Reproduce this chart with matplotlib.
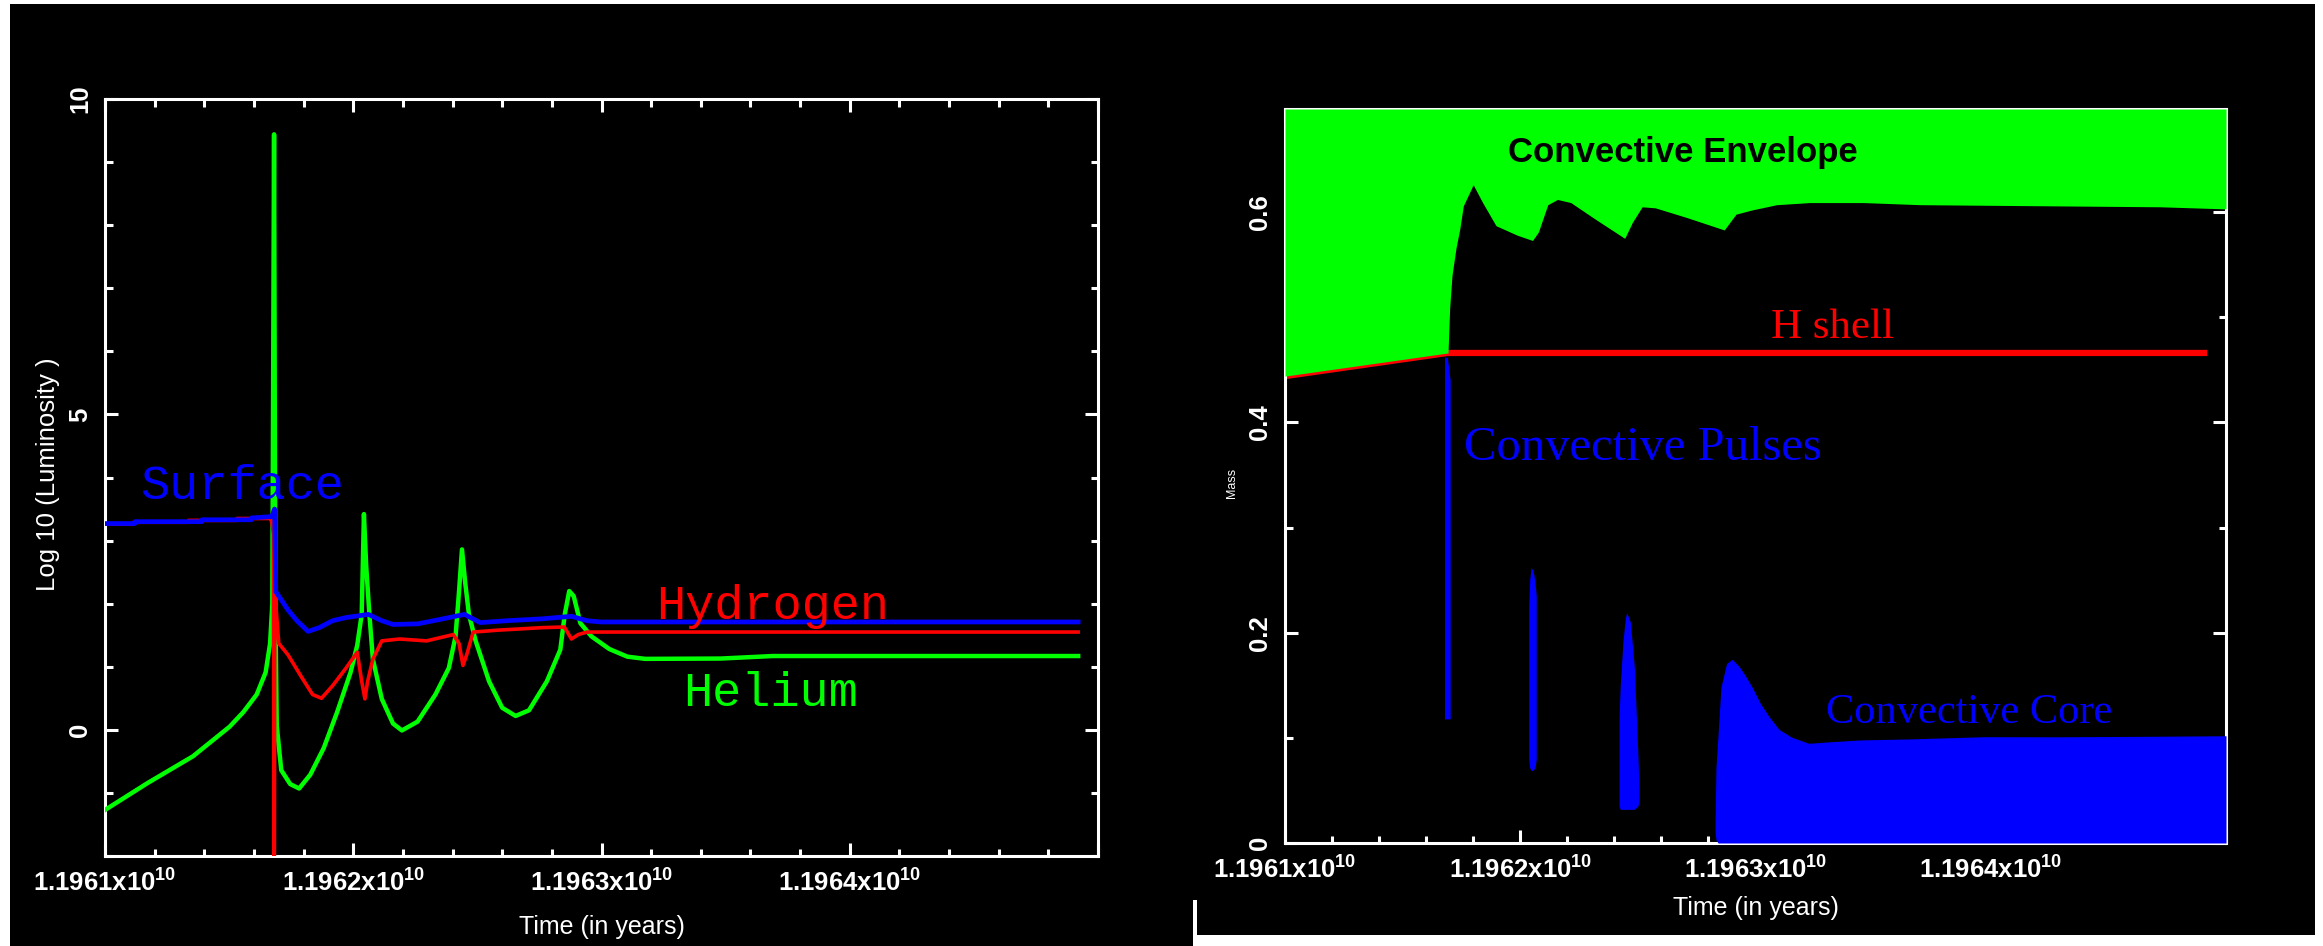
import numpy as np
import matplotlib
matplotlib.use("Agg")
import matplotlib.pyplot as plt
from matplotlib.patches import Rectangle
from matplotlib.ticker import MultipleLocator, FixedLocator

W, H = 2323, 946
T0 = 1.1961e10     # start of the time axis (years)
MYR = 1e6          # offsets below are in Myr after T0

# ---- left panel: log10 luminosity ----
t_helium = [0.0, 0.173, 0.354, 0.502, 0.557, 0.611, 0.647, 0.665, 0.674, 0.681, 0.686, 0.692,
            0.71, 0.746, 0.782, 0.827, 0.881, 0.935, 0.989, 1.016, 1.034, 1.043, 1.052, 1.065,
            1.079, 1.115, 1.16, 1.196, 1.259, 1.331, 1.385, 1.412, 1.426, 1.438, 1.451, 1.466,
            1.493, 1.547, 1.60, 1.654, 1.708, 1.78, 1.834, 1.852, 1.87, 1.888, 1.915, 1.96,
            2.032, 2.104, 2.176, 2.48, 2.69, 3.32, 3.92]
l_helium = [-1.27, -0.84, -0.42, 0.05, 0.28, 0.56, 0.91, 1.37, 2.0, 9.44, 2.0, 0.06,
            -0.64, -0.86, -0.93, -0.71, -0.29, 0.28, 0.91, 1.34, 1.83, 3.42, 2.61, 1.83,
            1.12, 0.49, 0.10, -0.01, 0.13, 0.56, 0.98, 1.48, 2.19, 2.86, 2.33, 1.83,
            1.41, 0.77, 0.35, 0.22, 0.31, 0.77, 1.27, 1.83, 2.20, 2.12, 1.69, 1.48,
            1.28, 1.16, 1.125, 1.13, 1.17, 1.17, 1.17]

t_hydrogen = [0.0, 0.113, 0.114, 0.335, 0.336, 0.53, 0.531, 0.665, 0.672, 0.678, 0.682, 0.684,
              0.70, 0.737, 0.791, 0.836, 0.872, 0.917, 0.971, 1.016, 1.034, 1.047, 1.058, 1.079,
              1.115, 1.187, 1.295, 1.403, 1.426, 1.442, 1.457, 1.483, 1.583, 1.762, 1.85, 1.879,
              1.906, 1.942, 3.92]
l_hydrogen = [3.26, 3.26, 3.29, 3.29, 3.32, 3.32, 3.35, 3.35, 3.3, 3.1, -2.6, 2.19,
              1.37, 1.19, 0.84, 0.56, 0.50, 0.70, 0.98, 1.23, 0.77, 0.49, 0.77, 1.12,
              1.41, 1.44, 1.41, 1.51, 1.37, 1.02, 1.19, 1.55, 1.58, 1.62, 1.63, 1.44,
              1.51, 1.55, 1.55]

t_surface = [0.0, 0.12, 0.121, 0.39, 0.391, 0.59, 0.591, 0.672, 0.683, 0.688, 0.70, 0.737,
             0.773, 0.818, 0.863, 0.917, 0.971, 1.061, 1.115, 1.16, 1.259, 1.349, 1.448, 1.511,
             1.62, 1.762, 1.879, 1.942, 1.996, 3.92]
l_surface = [3.27, 3.27, 3.30, 3.30, 3.33, 3.33, 3.36, 3.38, 3.50, 2.19, 2.12, 1.90,
             1.73, 1.56, 1.62, 1.73, 1.78, 1.83, 1.73, 1.67, 1.68, 1.75, 1.83, 1.70,
             1.73, 1.76, 1.80, 1.73, 1.71, 1.71]

# ---- right panel: mass coordinate ----
M_STAR = 0.698
t_hshell = [0.0, 0.69, 3.92]
m_hshell = [0.444, 0.466, 0.466]

t_envelope = [0.0, 0.693, 0.70, 0.71, 0.727, 0.743, 0.758, 0.80, 0.84, 0.897, 0.987, 1.052,
              1.077, 1.117, 1.158, 1.215, 1.314, 1.444, 1.476, 1.518, 1.574, 1.705, 1.867,
              1.917, 1.985, 2.09, 2.23, 2.46, 2.70, 3.72, 4.0]
m_envelope = [0.444, 0.466, 0.509, 0.540, 0.566, 0.584, 0.606, 0.626, 0.609, 0.587, 0.578, 0.573,
              0.581, 0.607, 0.612, 0.609, 0.594, 0.575, 0.590, 0.605, 0.604, 0.595, 0.583,
              0.598, 0.602, 0.607, 0.609, 0.609, 0.607, 0.605, 0.603]

pulse1_t = [0.678, 0.690, 0.702]
pulse1_top = [0.462, 0.462, 0.44]
pulse1_bot = [0.118, 0.118, 0.118]

pulse2_t = [1.036, 1.040, 1.046, 1.052, 1.058, 1.064, 1.068]
pulse2_top = [0.225, 0.25, 0.262, 0.26, 0.255, 0.245, 0.235]
pulse2_bot = [0.08, 0.072, 0.069, 0.069, 0.070, 0.073, 0.08]

pulse3_t = [1.420, 1.425, 1.437, 1.447, 1.452, 1.458, 1.468, 1.485, 1.500, 1.505]
pulse3_top = [0.12, 0.15, 0.193, 0.214, 0.219, 0.216, 0.21, 0.167, 0.085, 0.05]
pulse3_bot = [0.035, 0.032, 0.032, 0.032, 0.032, 0.032, 0.032, 0.032, 0.035, 0.04]

core_t = [1.828, 1.832, 1.841, 1.853, 1.877, 1.901, 1.93, 1.96, 1.986, 2.02, 2.058, 2.10,
          2.154, 2.227, 2.30, 2.443, 2.66, 2.973, 3.3, 3.7, 4.0]
core_top = [0.02, 0.072, 0.1036, 0.148, 0.1707, 0.1746, 0.168, 0.158, 0.148, 0.133, 0.12, 0.108,
            0.1006, 0.0948, 0.096, 0.098, 0.099, 0.1011, 0.101, 0.1015, 0.102]
core_bot = [0.01, 0.003] + [0.0] * 19

# tick labels
xtick_pos = [0, 1, 2, 3, 4]
xtick_lab = ["1.1961x10$^{10}$", "1.1962x10$^{10}$", "1.1963x10$^{10}$", "1.1964x10$^{10}$", ""]
lum_ticks = [0, 5, 10]
mass_ticks = [0, 0.2, 0.4, 0.6]


def yrs(t):
    return T0 + np.array(t) * MYR


plt.rcParams["font.family"] = "Liberation Sans"
plt.rcParams["font.weight"] = "bold"
plt.rcParams["font.size"] = 18
plt.rcParams["mathtext.fontset"] = "custom"
plt.rcParams["mathtext.rm"] = "Liberation Sans:bold"
plt.rcParams["mathtext.it"] = "Liberation Sans:bold"
plt.rcParams["mathtext.bf"] = "Liberation Sans:bold"
plt.rcParams["mathtext.default"] = "rm"

fig = plt.figure(figsize=(W / 100, H / 100), dpi=100, facecolor="white")


def box(x0, y0, x1, y1):
    # pixel box (top-left origin) -> figure fraction
    return [x0 / W, 1 - y1 / H, (x1 - x0) / W, (y1 - y0) / H]


# black backgrounds of the two pasted images
for b in [box(10, 4, 1193, 946), box(1197, 4, 2315, 935), box(1190, 4, 1200, 900)]:
    fig.add_artist(Rectangle((b[0], b[1]), b[2], b[3], transform=fig.transFigure,
                             facecolor="black", edgecolor="none", zorder=-10))

GREEN = "#00ff00"
BLUE = "#0000ff"
RED = "#ff0000"


def style(ax, ymajor, yminor, yticklabels, ypad):
    ax.set_facecolor("black")
    for s in ax.spines.values():
        s.set_color("white")
        s.set_linewidth(2.2)
    ax.xaxis.set_major_locator(FixedLocator(list(yrs(xtick_pos))))
    ax.set_xticklabels(xtick_lab)
    ax.xaxis.set_minor_locator(MultipleLocator(2e5))
    ax.set_yticks(ymajor)
    ax.set_yticklabels(yticklabels)
    ax.yaxis.set_minor_locator(MultipleLocator(yminor))
    ax.tick_params(which="both", direction="in", colors="white", width=2.2,
                   top=True, right=True, labelsize=18.5)
    ax.tick_params(which="major", length=9.4)
    ax.tick_params(which="minor", length=5.4)
    ax.tick_params(axis="x", pad=9.5)
    ax.tick_params(axis="y", pad=ypad, labelrotation=90)
    for lbl in ax.get_yticklabels():
        lbl.set_va("center")


# ---------------- left panel ----------------
ax1 = fig.add_axes(box(105, 99, 1098, 856))
ax1.plot(yrs(t_helium), l_helium, color=GREEN, lw=3.2, zorder=3)
ax1.plot(yrs(t_hydrogen), l_hydrogen, color=RED, lw=2.6, zorder=4)
ax1.plot(yrs(t_surface), l_surface, color=BLUE, lw=3.4, zorder=5)
ax1.set_xlim(T0, T0 + 4 * MYR)
ax1.set_ylim(-2, 10)
style(ax1, lum_ticks, 1, [str(v) for v in lum_ticks], 9)
ax1.set_xlabel("Time (in years)", color="white", fontsize=18)
ax1.xaxis.set_label_coords(0.5, -0.078)
ax1.set_ylabel("Log 10 (Luminosity )", color="white", fontsize=18.5)
ax1.yaxis.set_label_coords(-0.045, 0.505)

mono = dict(family="Liberation Mono", weight="normal", fontsize=35, va="baseline", zorder=6)
ax1.text(yrs(0.141), 3.66, "Surface", color=BLUE, **mono)
ax1.text(yrs(2.22), 1.76, "Hydrogen", color=RED, **mono)
ax1.text(yrs(2.33), 0.38, "Helium", color=GREEN, **mono)

# ---------------- right panel ----------------
ax2 = fig.add_axes(box(1285, 109, 2226, 843))
ax2.plot(yrs(t_hshell), m_hshell, color=RED, lw=4.5, solid_capstyle="butt", zorder=2)
ax2.fill_between(yrs(t_envelope), m_envelope, M_STAR, color=GREEN, lw=0, zorder=3)
ax2.fill_between(yrs(pulse1_t), pulse1_bot, pulse1_top, color=BLUE, lw=0, zorder=3)
ax2.fill_between(yrs(pulse2_t), pulse2_bot, pulse2_top, color=BLUE, lw=0, zorder=3)
ax2.fill_between(yrs(pulse3_t), pulse3_bot, pulse3_top, color=BLUE, lw=0, zorder=3)
ax2.fill_between(yrs(core_t), core_bot, core_top, color=BLUE, lw=0, zorder=3)
ax2.set_xlim(T0, T0 + 4 * MYR)
ax2.set_ylim(0, M_STAR)
style(ax2, mass_ticks, 0.1, ["0", "0.2", "0.4", "0.6"], 9)
ax2.set_xlabel("Time (in years)", color="white", fontsize=18)
ax2.xaxis.set_label_coords(0.5, -0.072)
ax2.set_ylabel("Mass", color="white", fontsize=9)
ax2.yaxis.set_label_coords(-0.05, 0.49)

serif = dict(family="Liberation Serif", weight="normal", va="baseline", zorder=6)
ax2.text(yrs(0.948), 0.6475, "Convective Envelope", color="black", fontsize=25,
         weight="bold", va="baseline", zorder=6)
ax2.text(yrs(2.066), 0.480, "H shell", color=RED, fontsize=31, **serif)
ax2.text(yrs(0.761), 0.364, "Convective Pulses", color=BLUE, fontsize=35, **serif)
ax2.text(yrs(2.30), 0.114, "Convective Core", color=BLUE, fontsize=30.5, **serif)

fig.savefig("out.png", dpi=100, facecolor="white")
